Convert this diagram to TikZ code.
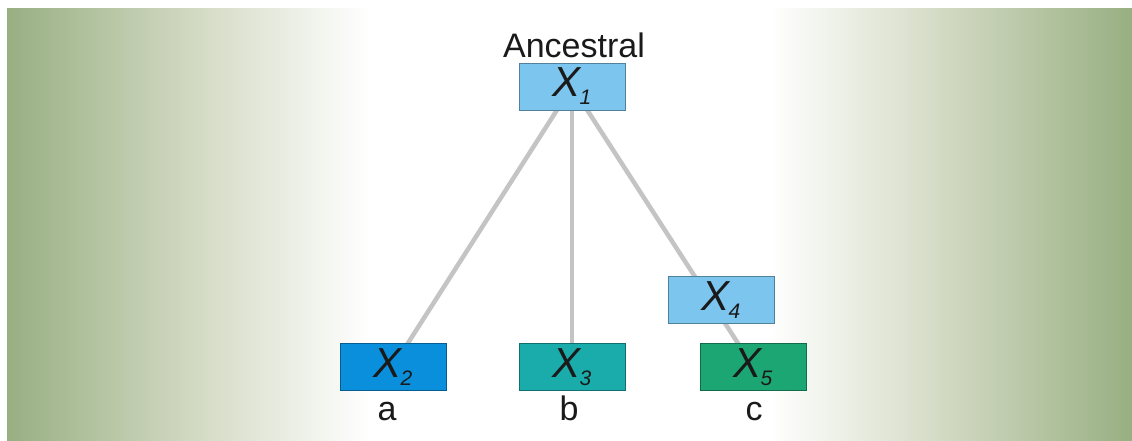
\documentclass[tikz,border=0pt]{standalone}
\usepackage{fontspec}
\setmainfont{Liberation Sans}
\definecolor{gdark}{HTML}{98AF82}
\definecolor{glight}{HTML}{D4DBC5}
\definecolor{boxlight}{HTML}{7CC5EF}
\definecolor{boxblue}{HTML}{0A8FDC}
\definecolor{boxteal}{HTML}{1AABAB}
\definecolor{boxgreen}{HTML}{1CA673}
\definecolor{edgegray}{HTML}{C4C4C4}
\definecolor{txt}{HTML}{1A1A1A}
\pgfdeclarehorizontalshading{bgshade}{100bp}{color(0bp)=(gdark); color(25bp)=(gdark); color(33.6bp)=(glight); color(41.1bp)=(white); color(58.9bp)=(white); color(66.4bp)=(glight); color(75bp)=(gdark); color(100bp)=(gdark)}
\pgfdeclarelayer{bg}
\pgfdeclarelayer{lines}
\pgfsetlayers{bg,lines,main}
\newcommand{\xvar}[1]{{\fontsize{42}{42}\selectfont\itshape X\kern-1pt\raisebox{-8pt}{\fontsize{21}{21}\selectfont #1}}}
\tikzset{
  varbox/.style={rectangle, minimum width=106pt, minimum height=47pt, inner sep=0pt,
    text height=30pt, text depth=9pt, text=txt, line width=0.8pt},
  edge/.style={draw=edgegray, line width=4.5pt},
  lbl/.style={anchor=base, text=txt, inner sep=0pt, font=\fontsize{34}{34}\selectfont}
}
\begin{document}
\begin{tikzpicture}[x=1pt,y=-1pt]
\useasboundingbox (0,0) rectangle (1132,441);
\begin{pgfonlayer}{bg}
  \fill[white] (0,0) rectangle (1132,441);
  \shade[shading=bgshade] (7,9) rectangle (1132,441);
\end{pgfonlayer}
\node[varbox, fill=boxlight, draw=boxlight!65!black] (x1) at (572,86.5) {\xvar{1}};
\node[varbox, fill=boxblue, draw=boxblue!65!black] (x2) at (393,366.5) {\xvar{2}};
\node[varbox, fill=boxteal, draw=boxteal!65!black] (x3) at (572,366.5) {\xvar{3}};
\node[varbox, fill=boxlight, draw=boxlight!65!black] (x4) at (721,300) {\xvar{4}};
\node[varbox, fill=boxgreen, draw=boxgreen!65!black] (x5) at (753,366.5) {\xvar{5}};
\node[lbl] (anc) at (574,58) {Ancestral};
\node[lbl] (la) at (387,420) {a};
\node[lbl] (lb) at (569,420) {b};
\node[lbl] (lc) at (754,420) {c};
\begin{pgfonlayer}{lines}
  \draw[edge] (x1.center) -- (x2.center);
  \draw[edge] (x1.center) -- (x3.center);
  \draw[edge] (x1.center) -- (x5.center);
\end{pgfonlayer}
\end{tikzpicture}
\end{document}
